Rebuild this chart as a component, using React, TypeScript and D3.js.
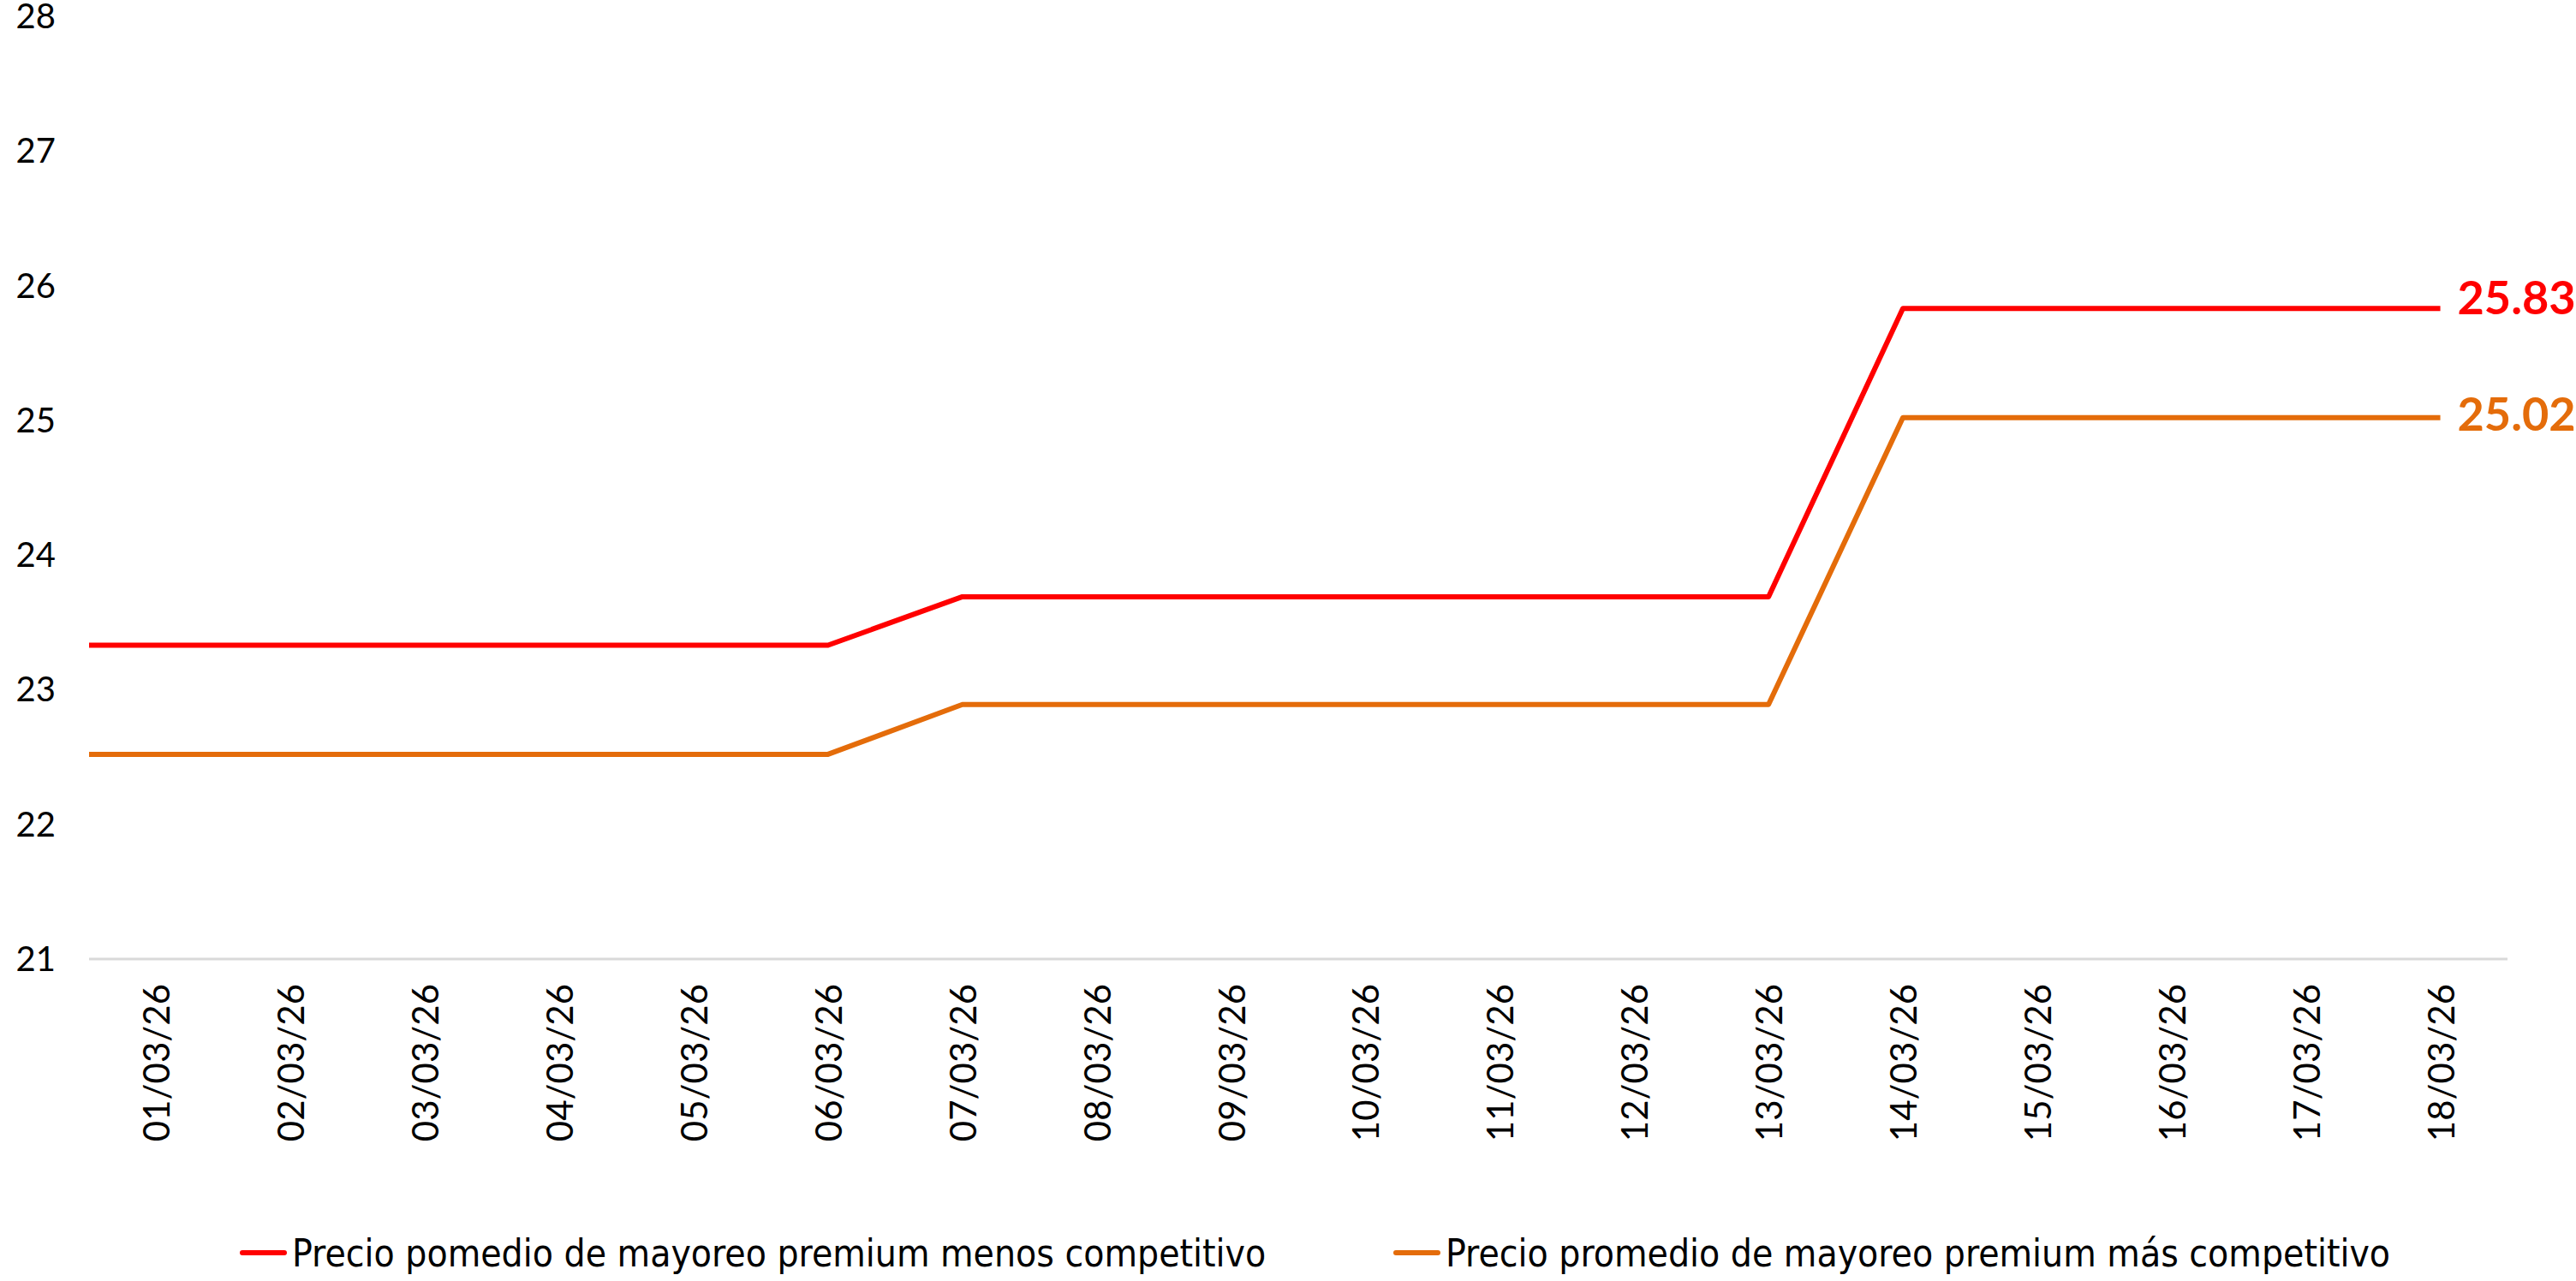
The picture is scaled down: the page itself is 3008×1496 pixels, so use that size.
import React from "react";
import * as d3 from "d3";

const categories = [
  "01/03/26", "02/03/26", "03/03/26", "04/03/26", "05/03/26", "06/03/26",
  "07/03/26", "08/03/26", "09/03/26", "10/03/26", "11/03/26", "12/03/26",
  "13/03/26", "14/03/26", "15/03/26", "16/03/26", "17/03/26", "18/03/26",
];
const menosCompetitivo = [
  23.33, 23.33, 23.33, 23.33, 23.33, 23.33,
  23.69, 23.69, 23.69, 23.69, 23.69, 23.69, 23.69,
  25.83, 25.83, 25.83, 25.83, 25.83,
];
const masCompetitivo = [
  22.52, 22.52, 22.52, 22.52, 22.52, 22.52,
  22.89, 22.89, 22.89, 22.89, 22.89, 22.89, 22.89,
  25.02, 25.02, 25.02, 25.02, 25.02,
];
const yTicks = [21, 22, 23, 24, 25, 26, 27, 28];
const seriesNames = [
  "Precio pomedio de mayoreo premium menos competitivo",
  "Precio promedio de mayoreo premium más competitivo",
];

const W = 3008;
const H = 1496;
const left = 104;
const right = 2928;
const top = 19;
const bottom = 1120;
const RED = "#FF0000";
const ORANGE = "#E46C0A";
const numFont = "Lato, 'Open Sans', sans-serif";

export default function App() {
  const x = d3.scaleBand<string>().domain(categories).range([left, right]).padding(0);
  const y = d3.scaleLinear().domain([21, 28]).range([bottom, top]);
  const cx = (c: string) => (x(c) as number) + x.bandwidth() / 2;

  const line = d3
    .line<[number, number]>()
    .x((d) => d[0])
    .y((d) => y(d[1]));

  const pts = (vals: number[]): [number, number][] => [
    [left, vals[0]],
    ...vals.map((v, i) => [cx(categories[i]), v] as [number, number]),
  ];

  const series = [
    { vals: menosCompetitivo, color: RED, dy: 7 },
    { vals: masCompetitivo, color: ORANGE, dy: 15 },
  ];
  const lastX = cx(categories[categories.length - 1]);

  return (
    <div style={{ position: "fixed", left: 0, top: 0, width: W, height: H, background: "#fff" }}>
      <svg width={W} height={H} style={{ display: "block" }}>
        <rect width={W} height={H} fill="#fff" />
        {/* baseline */}
        <line x1={left} x2={right} y1={y(21)} y2={y(21)} stroke="#D9D9D9" strokeWidth={3} />
        {/* y ticks */}
        {yTicks.map((t) => (
          <text
            key={t}
            x={65}
            y={y(t) + 14}
            textAnchor="end"
            fontFamily={numFont}
            fontSize={40}
            fill="#000"
          >
            {t}
          </text>
        ))}
        {/* x ticks */}
        {categories.map((c) => (
          <text
            key={c}
            transform={`translate(${cx(c)},${1149}) rotate(-90)`}
            textAnchor="end"
            dominantBaseline="central"
            fontFamily={numFont}
            fontSize={42}
            fill="#000"
          >
            {c}
          </text>
        ))}
        {/* lines */}
        {series.map((s, i) => (
          <path
            key={i}
            d={line(pts(s.vals)) || ""}
            fill="none"
            stroke={s.color}
            strokeWidth={6}
            strokeLinejoin="round"
            strokeLinecap="butt"
          />
        ))}
        {/* end labels */}
        {series.map((s, i) => (
          <text
            key={"l" + i}
            x={lastX + 20}
            y={y(s.vals[s.vals.length - 1]) + s.dy}
            fontFamily={numFont}
            fontWeight={700}
            fontSize={54}
            fill={s.color}
          >
            {s.vals[s.vals.length - 1].toFixed(2)}
          </text>
        ))}
        {/* legend */}
        {[
          { x0: 280, color: RED, name: seriesNames[0] },
          { x0: 1627, color: ORANGE, name: seriesNames[1] },
        ].map((l, i) => (
          <g key={"lg" + i}>
            <line
              x1={l.x0 + 3}
              x2={l.x0 + 52}
              y1={1463}
              y2={1463}
              stroke={l.color}
              strokeWidth={6}
              strokeLinecap="round"
            />
            <text
              x={l.x0 + 61}
              y={1463}
              dominantBaseline="central"
              fontFamily="'Liberation Sans Narrow', 'DejaVu Sans Condensed', sans-serif"
              fontSize={44}
              fill="#000"
            >
              {l.name}
            </text>
          </g>
        ))}
      </svg>
    </div>
  );
}
